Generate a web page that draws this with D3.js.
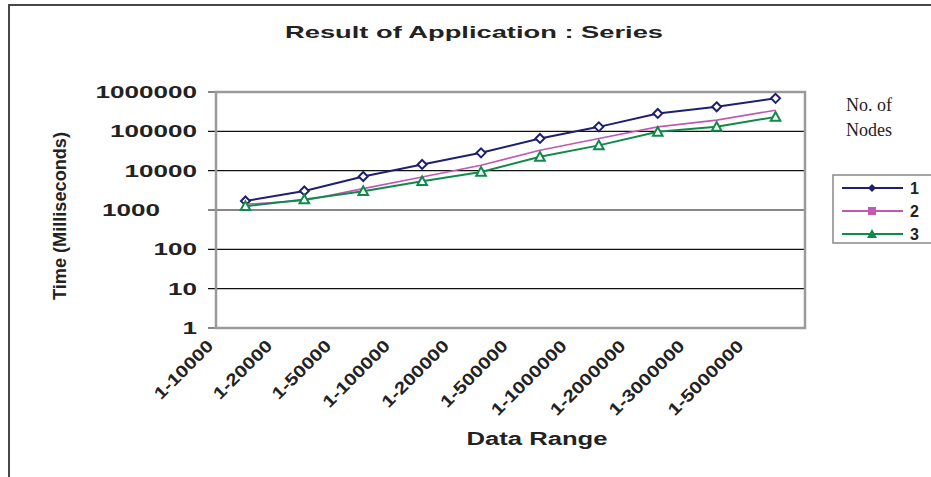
<!DOCTYPE html>
<html>
<head>
<meta charset="utf-8">
<script src="https://cdn.jsdelivr.net/npm/d3@7"></script>
<style>
  html, body { margin: 0; padding: 0; background: #fff; }
  svg { display: block; }
</style>
</head>
<body>
<svg id="chart" width="931" height="477"></svg>
<script>
// data
const categories = ['1-10000', '1-20000', '1-50000', '1-100000', '1-200000',
  '1-500000', '1-1000000', '1-2000000', '1-3000000', '1-5000000']
const nodes1 = [1700, 3050, 7100, 14400, 28400, 66000, 130000, 285000, 420000, 690000]
const nodes2 = [1400, 1750, 3500, 6900, 13800, 33000, 66000, 130000, 193000, 345000]
const nodes3 = [1250, 1850, 3000, 5400, 9300, 22500, 44000, 97000, 130000, 233000]
const yTicks = [1, 10, 100, 1000, 10000, 100000, 1000000]

const seriesList = [
  { name: '1', values: nodes1, color: '#1f1f70', marker: 'diamond', width: 2 },
  { name: '2', values: nodes2, color: '#c058b4', marker: 'square', width: 1.6 },
  { name: '3', values: nodes3, color: '#0f8a4a', marker: 'triangle', width: 2 },
]

const width = 931
const height = 477
const plot = { left: 216, right: 805, top: 92, bottom: 328 }
const boldFont = '"Liberation Sans", Arial, sans-serif'

const svg = d3.select('#chart')

// outer frame (only top and left edges are visible)
svg.append('path')
  .attr('d', `M9,${height} L9,5 L${width},5`)
  .attr('fill', 'none')
  .attr('stroke', '#474747')
  .attr('stroke-width', 2)

// title
svg.append('text')
  .attr('x', 474)
  .attr('y', 38)
  .attr('text-anchor', 'middle')
  .attr('font-family', boldFont)
  .attr('font-weight', 'bold')
  .attr('font-size', 17)
  .attr('textLength', 378)
  .attr('lengthAdjust', 'spacingAndGlyphs')
  .attr('fill', '#222')
  .text('Result of Application : Series')

// scales
const x = d3.scaleBand()
  .domain(categories)
  .range([plot.left, plot.right])

const y = d3.scaleLog()
  .domain([1, 1000000])
  .range([plot.bottom, plot.top])

// gridlines + ticks
svg.append('g')
  .attr('id', 'grid')
  .selectAll('line')
  .data(yTicks)
  .join('line')
  .attr('x1', plot.left - 8)
  .attr('x2', plot.right)
  .attr('y1', (d) => y(d))
  .attr('y2', (d) => y(d))
  .attr('stroke', '#111')
  .attr('stroke-width', 1.2)

// plot border
svg.append('rect')
  .attr('x', plot.left)
  .attr('y', plot.top)
  .attr('width', plot.right - plot.left)
  .attr('height', plot.bottom - plot.top)
  .attr('fill', 'none')
  .attr('stroke', '#9a9a9a')
  .attr('stroke-width', 2.5)

// y tick labels ("1000" sits further left in the original)
svg.append('g')
  .attr('id', 'yLabels')
  .selectAll('text')
  .data(yTicks)
  .join('text')
  .attr('x', (d) => (d === 1000 ? 160 : 197))
  .attr('y', (d) => y(d) + 6)
  .attr('text-anchor', 'end')
  .attr('font-family', boldFont)
  .attr('font-weight', 'bold')
  .attr('font-size', 17)
  .attr('textLength', (d) => String(d).length * 14.5)
  .attr('lengthAdjust', 'spacingAndGlyphs')
  .attr('fill', '#222')
  .text((d) => d)

// y axis title
svg.append('text')
  .attr('transform', 'translate(66,216) rotate(-90)')
  .attr('text-anchor', 'middle')
  .attr('font-family', boldFont)
  .attr('font-weight', 'bold')
  .attr('font-size', 18)
  .attr('textLength', 168)
  .attr('lengthAdjust', 'spacingAndGlyphs')
  .attr('fill', '#222')
  .text('Time (Milliseconds)')

// x tick labels
svg.append('g')
  .attr('id', 'xLabels')
  .selectAll('text')
  .data(categories)
  .join('text')
  .attr('transform', (d) =>
    'translate(' + (x(d) + x.bandwidth() / 2 - 31) + ',347) rotate(-45)')
  .attr('text-anchor', 'end')
  .attr('font-family', boldFont)
  .attr('font-weight', 'bold')
  .attr('font-size', 17)
  .attr('textLength', (d) => (d.length - 1) * 11.6 + 6)
  .attr('lengthAdjust', 'spacingAndGlyphs')
  .attr('fill', '#222')
  .text((d) => d)

// x axis title
svg.append('text')
  .attr('x', 537)
  .attr('y', 445)
  .attr('text-anchor', 'middle')
  .attr('font-family', boldFont)
  .attr('font-weight', 'bold')
  .attr('font-size', 18)
  .attr('textLength', 141)
  .attr('lengthAdjust', 'spacingAndGlyphs')
  .attr('fill', '#222')
  .text('Data Range')

// markers
function markerPath(type, size) {
  const s = size
  if (type === 'diamond') return `M0,${-s} L${s},0 L0,${s} L${-s},0 Z`
  if (type === 'square') return `M${-s},${-s} H${s} V${s} H${-s} Z`
  return `M0,${-s} L${s},${s * 0.8} L${-s},${s * 0.8} Z`
}

const cx = (i) => x(categories[i]) + x.bandwidth() / 2
const line = d3.line()
  .x((d, i) => cx(i))
  .y((d) => y(d))

const lines = svg.append('g').attr('id', 'lines')

seriesList.forEach((s) => {
  lines.append('path')
    .datum(s.values)
    .attr('d', line)
    .attr('fill', 'none')
    .attr('stroke', s.color)
    .attr('stroke-width', s.width)

  if (s.marker !== 'square') {
    lines.append('g')
      .selectAll('path')
      .data(s.values)
      .join('path')
      .attr('transform', (d, i) => `translate(${cx(i)},${y(d)})`)
      .attr('d', markerPath(s.marker, s.marker === 'diamond' ? 4.5 : 4.8))
      .attr('fill', '#fff')
      .attr('stroke', s.color)
      .attr('stroke-width', 2)
  }
})

// legend
const legendLayer = svg.append('g').attr('id', 'legend')

legendLayer.append('text')
  .attr('font-family', '"Liberation Serif", "Times New Roman", serif')
  .attr('font-size', 18)
  .attr('fill', '#222')
  .selectAll('tspan')
  .data(['No. of', 'Nodes'])
  .join('tspan')
  .attr('x', 846)
  .attr('y', (d, i) => 111 + i * 25)
  .text((d) => d)

legendLayer.append('rect')
  .attr('x', 833)
  .attr('y', 175)
  .attr('width', 100)
  .attr('height', 68)
  .attr('fill', '#fff')
  .attr('stroke', '#888')
  .attr('stroke-width', 1.5)

const legendRows = legendLayer.selectAll('g.row')
  .data(seriesList)
  .join('g')
  .attr('class', 'row')
  .attr('transform', (d, i) => `translate(0,${188 + i * 23})`)

legendRows.append('line')
  .attr('x1', 842)
  .attr('x2', 903)
  .attr('stroke', (d) => d.color)
  .attr('stroke-width', 2)

legendRows.append('path')
  .attr('transform', 'translate(872,0)')
  .attr('d', (d) => markerPath(d.marker, d.marker === 'triangle' ? 5 : 4))
  .attr('fill', (d) => d.color)

legendRows.append('text')
  .attr('x', 910)
  .attr('y', 6)
  .attr('font-family', boldFont)
  .attr('font-weight', 'bold')
  .attr('font-size', 16)
  .attr('fill', '#222')
  .text((d) => d.name)
</script>
</body>
</html>
